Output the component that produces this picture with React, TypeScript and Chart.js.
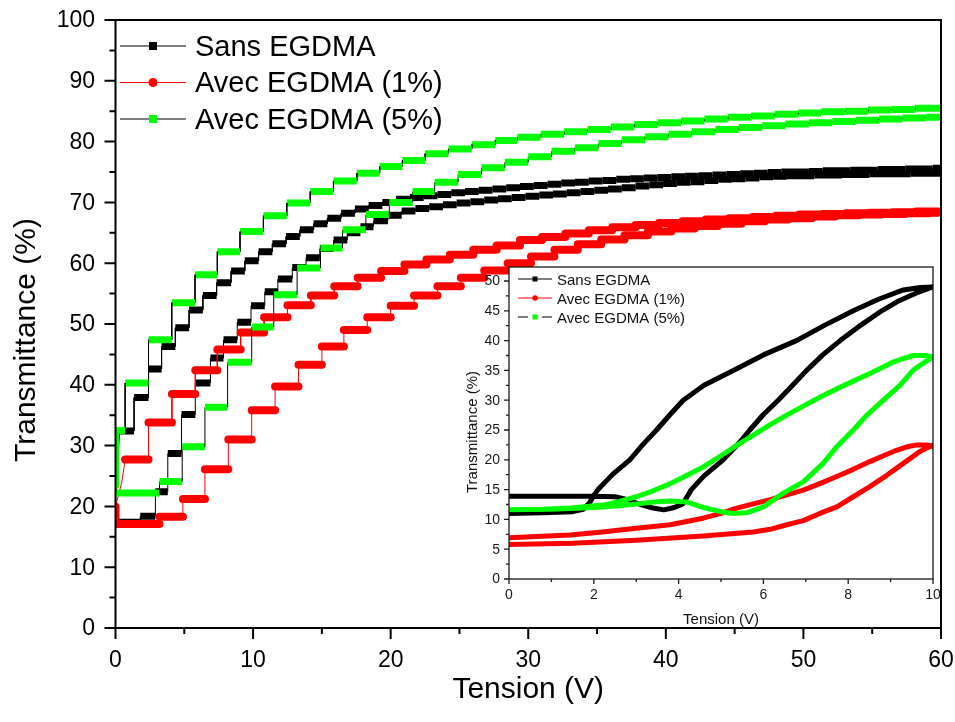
import React, { useEffect, useRef } from 'react';
import { Chart, registerables } from 'chart.js';

Chart.register(...registerables);

const FONT = '"Liberation Sans", Arial, Helvetica, sans-serif';

// ---------- Main chart data (plateau start voltage / transmittance level) ----------
const seriesLabels = ['Sans EGDMA', 'Avec EGDMA (1%)', 'Avec EGDMA (5%)'];

// Sans EGDMA – increasing voltage branch
const blackAscX = [0, 1.8, 2.9, 3.8, 4.8, 5.8, 6.9, 7.85, 8.85, 9.85, 10.85, 11.8, 12.85, 13.85, 14.85, 15.85, 16.85, 17.8, 18.75, 19.8,
  20.8, 21.8, 22.8, 23.8, 24.8, 25.8, 26.8, 27.8, 28.8, 29.8, 30.8, 31.8, 32.8, 33.8, 34.8, 35.8, 36.8, 37.8, 38.8, 39.8,
  40.8, 41.8, 42.8, 43.8, 44.8, 45.8, 46.8, 47.8, 48.8, 49.8, 50.8, 51.8, 52.8, 53.8, 54.8, 55.8, 56.8, 57.8, 58.8];
const blackAscY = [17.4, 18.4, 22.4, 28.7, 35.1, 40.3, 44.4, 47.4, 50.3, 53.0, 55.3, 57.4, 59.3, 60.9, 62.4, 63.8, 65.0, 66.0, 67.0, 67.9,
  68.6, 69.0, 69.3, 69.6, 69.9, 70.1, 70.4, 70.6, 70.8, 71.0, 71.2, 71.4, 71.6, 71.8, 72.0, 72.2, 72.4, 72.7, 72.9, 73.1,
  73.3, 73.4, 73.6, 73.8, 73.9, 74.0, 74.2, 74.3, 74.4, 74.4, 74.5, 74.5, 74.6, 74.6, 74.7, 74.7, 74.7, 74.8, 74.8];
// Sans EGDMA – decreasing voltage branch
const blackDescX = [0.3, 1.35, 2.4, 3.35, 4.35, 5.35, 6.35, 7.35, 8.4, 9.4, 10.4, 11.4, 12.4, 13.4, 14.4, 15.4, 16.4, 17.4, 18.4, 19.4,
  20.4, 21.4, 22.4, 23.4, 24.4, 25.4, 26.4, 27.4, 28.4, 29.4, 30.4, 31.4, 32.4, 33.4, 34.4, 35.4, 36.4, 37.4, 38.4, 39.4,
  40.4, 41.4, 42.4, 43.4, 44.4, 45.4, 46.4, 47.4, 48.4, 49.4, 50.4, 51.4, 52.4, 53.4, 54.4, 55.4, 56.4, 57.4, 58.4, 59.4];
const blackDescY = [32.4, 37.9, 42.6, 46.3, 49.4, 52.3, 54.7, 56.8, 58.7, 60.4, 61.9, 63.2, 64.4, 65.5, 66.5, 67.4, 68.2, 68.9, 69.5, 70.0,
  70.5, 70.8, 71.1, 71.3, 71.6, 71.8, 72.0, 72.2, 72.4, 72.6, 72.8, 73.0, 73.2, 73.3, 73.5, 73.6, 73.8, 73.9, 74.0, 74.1,
  74.2, 74.3, 74.4, 74.5, 74.6, 74.7, 74.8, 74.9, 75.0, 75.0, 75.1, 75.2, 75.2, 75.3, 75.3, 75.4, 75.4, 75.5, 75.5, 75.6];
const blackTailX = [0.15, 0];
const blackTailY = [27.0, 20.5];

// Avec EGDMA (1%)
const redAscX = [0, 3.2, 4.9, 6.5, 8.2, 9.9, 11.6, 13.3, 15.0, 16.6, 18.3, 20.0, 21.7, 23.4, 25.1, 26.8, 28.5, 30.2, 31.9, 33.6,
  35.3, 37.0, 38.7, 40.4, 42.1, 43.8, 45.5, 47.2, 48.9, 50.6, 52.3, 54.0, 55.7, 57.4, 59.1];
const redAscY = [17.1, 18.3, 21.2, 26.1, 31.0, 35.8, 39.7, 43.3, 46.3, 49.0, 51.1, 53.0, 54.7, 56.2, 57.6, 58.8, 60.0, 61.1, 62.2, 63.1,
  63.9, 64.6, 65.2, 65.7, 66.1, 66.5, 66.9, 67.2, 67.4, 67.7, 67.9, 68.0, 68.1, 68.2, 68.3];
const redDescX = [0.7, 2.4, 4.1, 5.8, 7.4, 9.1, 10.8, 12.5, 14.2, 15.9, 17.6, 19.3, 21.0, 22.6, 24.3, 26.0, 27.7, 29.4, 31.0, 32.7,
  34.4, 36.1, 37.8, 39.5, 41.2, 42.9, 44.6, 46.3, 48.0, 49.7, 51.4, 53.1, 54.8, 56.5, 58.2];
const redDescY = [27.7, 33.8, 38.5, 42.4, 45.8, 48.6, 51.1, 53.1, 54.7, 56.2, 57.6, 58.7, 59.8, 60.6, 61.4, 62.2, 62.9, 63.8, 64.3, 64.9,
  65.4, 65.9, 66.3, 66.6, 66.9, 67.2, 67.4, 67.6, 67.8, 68.0, 68.1, 68.2, 68.3, 68.4, 68.5];
const redTailX = [0.45, 0, 0];
const redTailY = [23.9, 20.0, 17.1];

// Avec EGDMA (5%)
const greenAscX = [0, 3.2, 4.85, 6.5, 8.15, 9.9, 11.5, 13.2, 14.9, 16.5, 18.2, 19.9, 21.6, 23.2, 24.9, 26.6, 28.3, 30.0, 31.7, 33.4,
  35.1, 36.8, 38.5, 40.2, 41.9, 43.6, 45.3, 47.0, 48.7, 50.4, 52.1, 53.8, 55.5, 57.2, 58.9];
const greenAscY = [22.2, 24.1, 29.8, 36.3, 43.7, 49.5, 54.8, 59.2, 62.5, 65.5, 68.0, 70.0, 71.8, 73.3, 74.6, 75.7, 76.6, 77.5, 78.4, 79.0,
  79.7, 80.3, 80.8, 81.2, 81.6, 82.0, 82.3, 82.6, 82.9, 83.1, 83.3, 83.5, 83.7, 83.9, 84.0];
const greenDescX = [0, 0.7, 2.4, 4.09, 5.78, 7.4, 9.05, 10.75, 12.45, 14.15, 15.84, 17.54, 19.2, 20.85, 22.5, 24.2, 25.9, 27.6, 29.2, 30.9,
  32.6, 34.3, 36.0, 37.7, 39.4, 41.1, 42.8, 44.5, 46.2, 47.9, 49.6, 51.3, 53.0, 54.7, 56.4, 58.1];
const greenDescY = [32.5, 40.3, 47.4, 53.5, 58.1, 61.9, 65.2, 67.8, 69.9, 71.8, 73.5, 74.8, 75.9, 76.9, 78.0, 78.8, 79.5, 80.2, 80.7, 81.2,
  81.6, 82.0, 82.4, 82.8, 83.1, 83.4, 83.7, 84.0, 84.2, 84.5, 84.7, 84.9, 85.0, 85.2, 85.3, 85.5];
const greenTailX = [0, 0];
const greenTailY = [28.5, 23.0];

const mainXMax = 60;
const mainYMax = 100;
const mainXTicks = [0, 10, 20, 30, 40, 50, 60];
const mainYTicks = [0, 10, 20, 30, 40, 50, 60, 70, 80, 90, 100];

// ---------- Inset data ----------
const insetBlackAX = [0, 0.8, 1.5, 1.75, 1.9, 2.0, 2.1, 2.45, 2.85, 3.15, 3.48, 3.8, 4.11, 4.6, 5.29, 6.0, 6.78, 7.45, 8.12, 8.7, 9.3, 9.7, 10];
const insetBlackAY = [11.0, 11.1, 11.3, 11.7, 12.8, 14.0, 15.0, 17.6, 20.0, 22.5, 25.0, 27.6, 30.0, 32.5, 35.0, 37.6, 40.0, 42.6, 45.0, 46.9, 48.5, 48.9, 49.0];
const insetBlackBX = [0, 1.0, 2.0, 2.5, 2.8, 3.1, 3.4, 3.65, 3.9, 4.1, 4.3, 4.6, 5.05, 5.4, 5.68, 6.0, 6.35, 6.7, 7.02, 7.4, 7.81, 8.3, 8.79, 9.2, 9.61, 10];
const insetBlackBY = [13.9, 13.9, 13.9, 13.8, 13.3, 12.5, 11.9, 11.6, 12.0, 12.6, 15.0, 17.3, 20.0, 22.6, 25.0, 27.6, 30.0, 32.6, 35.0, 37.6, 40.0, 42.6, 45.0, 46.7, 48.0, 49.0];

const insetRedUX = [0, 1.44, 2.2, 3.0, 3.8, 4.58, 5.0, 5.37, 5.76, 6.16, 6.55, 6.94, 7.33, 7.73, 8.12, 8.51, 8.9, 9.14, 9.4, 9.62, 9.85, 10];
const insetRedUY = [6.9, 7.4, 7.9, 8.5, 9.1, 10.2, 11.0, 11.9, 12.6, 13.3, 14.1, 14.9, 16.0, 17.2, 18.4, 19.7, 20.9, 21.6, 22.2, 22.5, 22.5, 22.2];
const insetRedLX = [0, 1.5, 3.0, 4.58, 5.76, 6.2, 6.55, 6.94, 7.33, 7.73, 8.12, 8.51, 8.91, 9.3, 9.69, 10];
const insetRedLY = [5.8, 6.0, 6.5, 7.2, 7.9, 8.4, 9.1, 9.8, 11.0, 12.1, 13.8, 15.5, 17.4, 19.4, 21.4, 22.5];

const insetGreenLX = [0, 1.0, 2.0, 2.6, 3.0, 3.4, 3.8, 4.2, 4.58, 5.0, 5.29, 5.6, 6.0, 6.47, 6.94, 7.41, 7.73, 8.12, 8.44, 8.83, 9.22, 9.54, 10];
const insetGreenLY = [11.6, 11.7, 12.0, 12.3, 12.6, 12.9, 13.1, 12.9, 12.0, 11.3, 11.0, 11.1, 12.1, 14.4, 16.3, 19.4, 22.2, 25.0, 27.5, 30.0, 32.5, 35.1, 37.3];
const insetGreenUX = [0, 0.8, 1.44, 2.22, 2.6, 3.0, 3.4, 3.8, 4.2, 4.58, 4.98, 5.37, 5.8, 6.16, 6.55, 6.94, 7.33, 7.73, 8.12, 8.51, 8.8, 9.06, 9.3, 9.54, 9.8, 10];
const insetGreenUY = [11.6, 11.7, 11.9, 12.4, 13.0, 13.8, 14.8, 16.0, 17.4, 18.8, 20.6, 22.4, 24.3, 25.9, 27.5, 29.0, 30.5, 31.9, 33.2, 34.5, 35.5, 36.4, 37.0, 37.5, 37.5, 37.3];

const insetXMax = 10;
const insetYMax = 52.35;
const insetXTicks = [0, 2, 4, 6, 8, 10];
const insetYTicks = [0, 5, 10, 15, 20, 25, 30, 35, 40, 45, 50];

const BLACK = '#000000';
const RED = '#ff0000';
const GREEN = '#00ff00';

// ---------- helpers ----------
type P = { x: number; y: number };
function steps(xs: number[], ys: number[], xEnd: number): P[] {
  const pts: P[] = [];
  xs.forEach((x, i) => {
    const x1 = i < xs.length - 1 ? xs[i + 1] : xEnd;
    pts.push({ x, y: ys[i] }, { x: x1, y: ys[i] });
  });
  return pts;
}
function pairs(xs: number[], ys: number[]): P[] {
  return xs.map((x, i) => ({ x, y: ys[i] }));
}
function stepLoop(ax: number[], ay: number[], dx: number[], dy: number[], tx: number[], ty: number[]): P[] {
  return [...steps(ax, ay, mainXMax), ...steps(dx, dy, mainXMax).reverse(), ...pairs(tx, ty)];
}
function curveLoop(ax: number[], ay: number[], bx: number[], by: number[]): P[] {
  return [...pairs(ax, ay), ...pairs(bx, by).reverse()];
}

const isPlateau = (c: any) => {
  const a = c.p0.parsed;
  const b = c.p1.parsed;
  return a.y === b.y || (a.x === 0 && b.x === 0);
};

function stepDataset(label: string, data: P[], mark: string, line: string, width: number, cap: string, order: number) {
  return {
    label,
    data,
    order,
    borderColor: line,
    borderWidth: 1,
    pointRadius: 0,
    pointHoverRadius: 0,
    fill: false,
    tension: 0,
    borderCapStyle: 'butt',
    borderJoinStyle: 'miter',
    segment: {
      borderColor: (c: any) => (isPlateau(c) ? mark : line),
      borderWidth: (c: any) => (isPlateau(c) ? width : 1),
      borderCapStyle: (c: any) => (isPlateau(c) ? cap : 'butt'),
    },
  };
}

function drawMarker(ctx: CanvasRenderingContext2D, kind: string, x: number, y: number, size: number, color: string) {
  ctx.fillStyle = color;
  if (kind === 'circle') {
    ctx.beginPath();
    ctx.arc(x, y, size / 2, 0, Math.PI * 2);
    ctx.fill();
  } else {
    ctx.fillRect(x - size / 2, y - size / 2, size, size);
  }
}

const legendStyles = [
  { line: BLACK, mark: BLACK, kind: 'rect', dashed: false },
  { line: RED, mark: RED, kind: 'circle', dashed: false },
  { line: BLACK, mark: GREEN, kind: 'rect', dashed: false },
];

const mainDecor = {
  id: 'mainDecor',
  afterDraw(chart: any) {
    const { ctx, chartArea: a } = chart;
    const xs = chart.scales.x;
    const ys = chart.scales.y;
    ctx.save();
    ctx.strokeStyle = '#000';
    ctx.lineWidth = 2;
    ctx.strokeRect(a.left, a.top, a.right - a.left, a.bottom - a.top);
    ctx.beginPath();
    for (let v = 0; v <= mainXMax; v += 5) {
      const px = xs.getPixelForValue(v);
      const len = v % 10 === 0 ? 11 : 6;
      ctx.moveTo(px, a.bottom);
      ctx.lineTo(px, a.bottom + len);
    }
    for (let v = 0; v <= mainYMax; v += 5) {
      const py = ys.getPixelForValue(v);
      const len = v % 10 === 0 ? 11 : 6;
      ctx.moveTo(a.left, py);
      ctx.lineTo(a.left - len, py);
    }
    ctx.stroke();

    // tick labels
    ctx.fillStyle = '#000';
    ctx.font = `23px ${FONT}`;
    ctx.textBaseline = 'middle';
    ctx.textAlign = 'center';
    mainXTicks.forEach((v) => ctx.fillText(String(v), xs.getPixelForValue(v), a.bottom + 33));
    ctx.textAlign = 'right';
    mainYTicks.forEach((v) => ctx.fillText(String(v), a.left - 20.5, ys.getPixelForValue(v) + 1));

    // axis titles
    ctx.font = `30px ${FONT}`;
    ctx.textAlign = 'center';
    ctx.textBaseline = 'alphabetic';
    ctx.fillText('Tension (V)', (a.left + a.right) / 2, 698);
    ctx.save();
    ctx.translate(35, 340);
    ctx.rotate(-Math.PI / 2);
    ctx.fillText('Transmittance (%)', 0, 0);
    ctx.restore();

    // legend
    ctx.font = `29px ${FONT}`;
    ctx.textAlign = 'left';
    seriesLabels.forEach((lab, i) => {
      const st = legendStyles[i];
      const y = 46 + i * 36.5;
      ctx.strokeStyle = st.line;
      ctx.lineWidth = 1;
      ctx.beginPath();
      ctx.moveTo(120, y);
      ctx.lineTo(186, y);
      ctx.stroke();
      drawMarker(ctx, st.kind, 153, y, st.kind === 'circle' ? 9 : 8, st.mark);
      ctx.fillStyle = '#000';
      ctx.fillText(lab, 195, y + 9.5);
    });
    ctx.restore();
  },
};

const insetLegend = [
  { line: BLACK, mark: BLACK, kind: 'rect', dashed: false },
  { line: RED, mark: RED, kind: 'circle', dashed: false },
  { line: '#555555', mark: GREEN, kind: 'rect', dashed: true },
];

const insetDecor = {
  id: 'insetDecor',
  beforeDraw(chart: any) {
    const { ctx, chartArea: a } = chart;
    ctx.save();
    ctx.fillStyle = '#ffffff';
    ctx.fillRect(a.left, a.top, a.right - a.left, a.bottom - a.top);
    ctx.restore();
  },
  afterDraw(chart: any) {
    const { ctx, chartArea: a } = chart;
    const xs = chart.scales.x;
    const ys = chart.scales.y;
    ctx.save();
    ctx.strokeStyle = '#1a1a1a';
    ctx.lineWidth = 1.3;
    ctx.strokeRect(a.left, a.top, a.right - a.left, a.bottom - a.top);
    ctx.beginPath();
    for (let v = 0; v <= insetXMax; v += 1) {
      const px = xs.getPixelForValue(v);
      const len = v % 2 === 0 ? 5 : 3;
      ctx.moveTo(px, a.bottom);
      ctx.lineTo(px, a.bottom + len);
    }
    for (let v = 0; v <= 50; v += 2.5) {
      const py = ys.getPixelForValue(v);
      const len = v % 5 === 0 ? 5 : 3;
      ctx.moveTo(a.left, py);
      ctx.lineTo(a.left - len, py);
    }
    ctx.stroke();

    ctx.fillStyle = '#1a1a1a';
    ctx.font = `14px ${FONT}`;
    ctx.textBaseline = 'middle';
    ctx.textAlign = 'center';
    insetXTicks.forEach((v) => ctx.fillText(String(v), xs.getPixelForValue(v), a.bottom + 16));
    ctx.textAlign = 'right';
    insetYTicks.forEach((v) => ctx.fillText(String(v), a.left - 9, ys.getPixelForValue(v) + 0.5));

    ctx.fillStyle = '#111';
    ctx.font = `15px ${FONT}`;
    ctx.textAlign = 'center';
    ctx.textBaseline = 'alphabetic';
    ctx.fillText('Tension (V)', (a.left + a.right) / 2, 369);
    ctx.save();
    ctx.translate(37, 177);
    ctx.rotate(-Math.PI / 2);
    ctx.fillText('Transmittance (%)', 0, 0);
    ctx.restore();

    ctx.textAlign = 'left';
    seriesLabels.forEach((lab, i) => {
      const st = insetLegend[i];
      const y = 24 + i * 19;
      ctx.strokeStyle = st.line;
      ctx.lineWidth = st.dashed ? 1.5 : 1;
      ctx.beginPath();
      if (st.dashed) {
        ctx.moveTo(78, y); ctx.lineTo(88, y);
        ctx.moveTo(102, y); ctx.lineTo(112, y);
      } else {
        ctx.moveTo(78, y); ctx.lineTo(112, y);
      }
      ctx.stroke();
      drawMarker(ctx, st.kind, 95, y, st.kind === 'circle' ? 5.5 : 5, st.mark);
      ctx.fillStyle = '#111';
      ctx.fillText(lab, 117, y + 5.5);
    });
    ctx.restore();
  },
};

const hiddenAxis = (min: number, max: number, fit: (s: any) => void) => ({
  type: 'linear',
  min,
  max,
  ticks: { display: false },
  grid: { display: false, drawTicks: false },
  border: { display: false },
  afterFit: fit,
});

export default function App() {
  const mainRef = useRef<HTMLCanvasElement | null>(null);
  const insetRef = useRef<HTMLCanvasElement | null>(null);

  useEffect(() => {
    Chart.defaults.font.family = FONT;
    const mainChart = new Chart(mainRef.current as HTMLCanvasElement, {
      type: 'line',
      data: {
        datasets: [
          stepDataset(seriesLabels[0], stepLoop(blackAscX, blackAscY, blackDescX, blackDescY, blackTailX, blackTailY), BLACK, BLACK, 7, 'butt', 3),
          stepDataset(seriesLabels[1], stepLoop(redAscX, redAscY, redDescX, redDescY, redTailX, redTailY), RED, RED, 8, 'round', 2),
          stepDataset(seriesLabels[2], stepLoop(greenAscX, greenAscY, greenDescX, greenDescY, greenTailX, greenTailY), GREEN, BLACK, 7, 'butt', 1),
        ] as any,
      },
      options: {
        animation: false,
        responsive: false,
        maintainAspectRatio: false,
        events: [],
        layout: { padding: { left: 0, top: 20, right: 14, bottom: 0 } },
        plugins: { legend: { display: false }, tooltip: { enabled: false } },
        scales: {
          x: hiddenAxis(0, mainXMax, (s: any) => { s.height = 94; }),
          y: hiddenAxis(0, mainYMax, (s: any) => { s.width = 115.5; }),
        },
      } as any,
      plugins: [mainDecor],
    });

    const insetDs = (label: string, data: P[], color: string, order: number) => ({
      label, data, order, borderColor: color, borderWidth: 5, pointRadius: 0, fill: false, tension: 0,
      borderCapStyle: 'butt', borderJoinStyle: 'round',
    });

    const insetChart = new Chart(insetRef.current as HTMLCanvasElement, {
      type: 'line',
      data: {
        datasets: [
          insetDs(seriesLabels[0], curveLoop(insetBlackAX, insetBlackAY, insetBlackBX, insetBlackBY), BLACK, 3),
          insetDs(seriesLabels[1], curveLoop(insetRedLX, insetRedLY, insetRedUX, insetRedUY), RED, 2),
          insetDs(seriesLabels[2], curveLoop(insetGreenLX, insetGreenLY, insetGreenUX, insetGreenUY), GREEN, 1),
        ] as any,
      },
      options: {
        animation: false,
        responsive: false,
        maintainAspectRatio: false,
        events: [],
        layout: { padding: { left: 0, top: 12, right: 7, bottom: 0 } },
        plugins: { legend: { display: false }, tooltip: { enabled: false } },
        scales: {
          x: hiddenAxis(0, insetXMax, (s: any) => { s.height = 49; }),
          y: hiddenAxis(0, insetYMax, (s: any) => { s.width = 69; }),
        },
      } as any,
      plugins: [insetDecor],
    });

    return () => {
      mainChart.destroy();
      insetChart.destroy();
    };
  }, []);

  return (
    <div style={{ position: 'absolute', left: 0, top: 0, width: 955, height: 722, background: '#fff', overflow: 'hidden' }}>
      <canvas ref={mainRef} width={955} height={722} style={{ position: 'absolute', left: 0, top: 0 }} />
      <canvas ref={insetRef} width={500} height={373} style={{ position: 'absolute', left: 440, top: 255 }} />
    </div>
  );
}
